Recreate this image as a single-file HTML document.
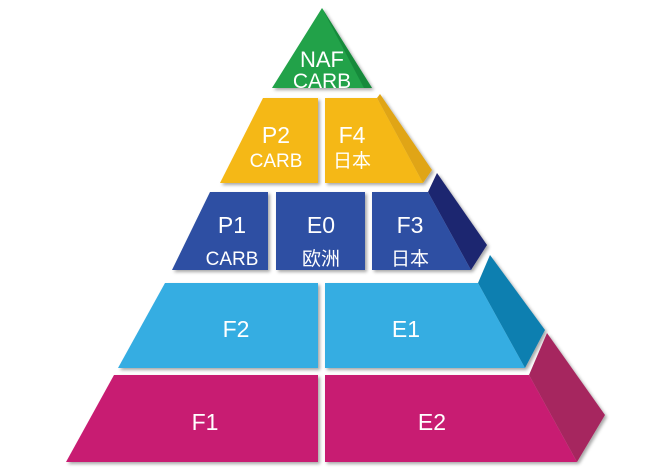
<!DOCTYPE html>
<html><head><meta charset="utf-8"><style>
html,body{margin:0;padding:0;background:#fff;}
svg{display:block;}
text{font-family:"Liberation Sans","Noto Sans CJK SC",sans-serif;fill:#fff;text-anchor:middle;}
</style></head><body>
<svg width="651" height="470" viewBox="0 0 651 470" xmlns="http://www.w3.org/2000/svg">
<defs>
<filter id="sh" x="-10%" y="-10%" width="130%" height="130%">
<feDropShadow dx="2" dy="2" stdDeviation="1.5" flood-color="#000" flood-opacity="0.35"/>
</filter>
</defs>
<g filter="url(#sh)">
<polygon points="377,98 380,94 432,170 423,183" fill="#e0a512"/>
<polygon points="428,192 437,173 487,245 471,270" fill="#1f2570"/>
<polygon points="478,283 490,255 545,330 525,368" fill="#0b7fb0"/>
<polygon points="529,375 547,333 605,415 577,462" fill="#a6275f"/>
<polygon points="322,8 372,88 272,88" fill="#20a24a"/>
<polygon points="322,8 372,88 364,88" fill="#178a3a"/>
<polygon points="263,98 318,98 318,183 220,183" fill="#f5b816"/>
<polygon points="325,98 377,98 423,183 325,183" fill="#f5b816"/>
<polygon points="210,192 268,192 268,270 172,270" fill="#2f50a3"/>
<polygon points="276,192 365,192 365,270 276,270" fill="#2f50a3"/>
<polygon points="372,192 428,192 471,270 372,270" fill="#2f50a3"/>
<polygon points="165,283 318,283 318,368 118,368" fill="#35ade2"/>
<polygon points="325,283 478,283 525,368 325,368" fill="#35ade2"/>
<polygon points="114,375 318,375 318,462 66,462" fill="#c81f72"/>
<polygon points="325,375 529,375 577,462 325,462" fill="#c81f72"/>
</g>
<text x="322" y="67" font-size="22">NAF</text>
<text x="322" y="88" font-size="21">CARB</text>
<text x="276" y="143" font-size="23">P2</text>
<text x="276" y="167" font-size="19">CARB</text>
<text x="352" y="143" font-size="23">F4</text>
<text x="352" y="167" font-size="19">日本</text>
<text x="232" y="233" font-size="23">P1</text>
<text x="232" y="265" font-size="19">CARB</text>
<text x="321" y="233" font-size="23">E0</text>
<text x="321" y="265" font-size="19">欧洲</text>
<text x="410" y="233" font-size="23">F3</text>
<text x="410" y="265" font-size="19">日本</text>
<text x="236" y="337" font-size="23">F2</text>
<text x="406" y="337" font-size="23">E1</text>
<text x="205" y="430" font-size="23">F1</text>
<text x="432" y="430" font-size="23">E2</text>
</svg>
</body></html>
